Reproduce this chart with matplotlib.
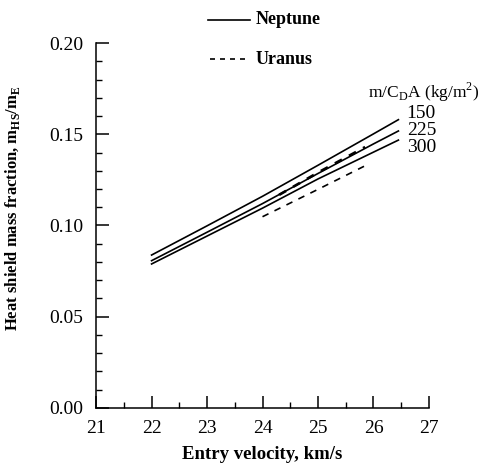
import numpy as np
import matplotlib
matplotlib.use('Agg')
import matplotlib.pyplot as plt
from matplotlib.lines import Line2D
from matplotlib.ticker import MultipleLocator

plt.rcParams['font.family'] = ['Liberation Serif', 'DejaVu Serif']
plt.rcParams['mathtext.fontset'] = 'custom'
plt.rcParams['mathtext.rm'] = 'Liberation Serif'
plt.rcParams['mathtext.bf'] = 'Liberation Serif:bold'

# Neptune curves, one per ballistic coefficient m/CdA (kg/m^2)
neptune_v = [22.0, 23.0, 24.0, 25.0, 26.0, 26.45]
neptune_150 = [0.0838, 0.0998, 0.1160, 0.1330, 0.1502, 0.1580]
neptune_225 = [0.0807, 0.0963, 0.1120, 0.1285, 0.1447, 0.1518]
neptune_300 = [0.0789, 0.0942, 0.1095, 0.1255, 0.1402, 0.1468]

# Uranus curves (dashed, shorter velocity range)
uranus_upper_v = [24.3, 25.0, 25.85]
uranus_upper = [0.1168, 0.1290, 0.1430]
uranus_lower_v = [24.0, 25.0, 25.9]
uranus_lower = [0.1048, 0.1198, 0.1335]

coef_labels = ['150', '225', '300']
coef_label_y = [0.1612, 0.1521, 0.1430]
x_ticks = [21, 22, 23, 24, 25, 26, 27]
y_ticks = [0.00, 0.05, 0.10, 0.15, 0.20]

fig = plt.figure(figsize=(4.83, 4.63), dpi=100)
ax = fig.add_axes([0.199, 0.119, 0.689, 0.788])

lw = 1.2
for vals in (neptune_150, neptune_225, neptune_300):
    ax.plot(neptune_v, vals, color='black', lw=lw)
ax.plot(uranus_upper_v, uranus_upper, color='black', lw=lw * 1.6, ls=(0, (3, 3)))
ax.plot(uranus_lower_v, uranus_lower, color='black', lw=lw, ls=(0, (4, 4)))

# curve labels at the right end
for lab, yv in zip(coef_labels, coef_label_y):
    ax.text(26.6, yv, lab, fontsize=14, ha='left', va='center', clip_on=False)
ax.text(25.9, 0.1728, r'm/C$_{\rm D}$A (kg/m$^2$)', fontsize=12.5,
        ha='left', va='center', clip_on=False)

ax.set_xlim(21, 27)
ax.set_ylim(0, 0.20)
ax.set_xticks(x_ticks)
ax.set_xticklabels([str(t) for t in x_ticks])
ax.set_yticks(y_ticks)
ax.set_yticklabels([f'{t:.2f}' for t in y_ticks])
ax.xaxis.set_minor_locator(MultipleLocator(0.5))
ax.yaxis.set_minor_locator(MultipleLocator(0.01))
ax.tick_params(which='major', direction='in', length=9, width=1.1,
               labelsize=14, pad=9)
ax.tick_params(which='minor', direction='in', length=4.5, width=1.0)
ax.spines['top'].set_visible(False)
ax.spines['right'].set_visible(False)
for s in ('left', 'bottom'):
    ax.spines[s].set_linewidth(1.1)

ax.set_xlabel('Entry velocity, km/s', fontsize=13.5, fontweight='bold', labelpad=6)
ax.set_ylabel(r'Heat shield mass fraction, m$_{\mathbf{HS}}$/m$_{\mathbf{E}}$',
              fontsize=12, fontweight='bold')
ax.yaxis.set_label_coords(-0.222, 0.548)

# legend drawn by hand at the top
W, H = 483, 463
fig.add_artist(Line2D([208 / W, 250 / W], [1 - 20 / H, 1 - 20 / H],
                      color='black', lw=lw))
fig.text(256 / W, 1 - 20 / H, 'Neptune', fontsize=13, fontweight='bold',
         ha='left', va='center')
fig.add_artist(Line2D([210 / W, 250 / W], [1 - 59 / H, 1 - 59 / H],
                      color='black', lw=lw, ls=(0, (3, 3))))
fig.text(256 / W, 1 - 59 / H, 'Uranus', fontsize=13, fontweight='bold',
         ha='left', va='center')

fig.savefig('out.png', dpi=100)
